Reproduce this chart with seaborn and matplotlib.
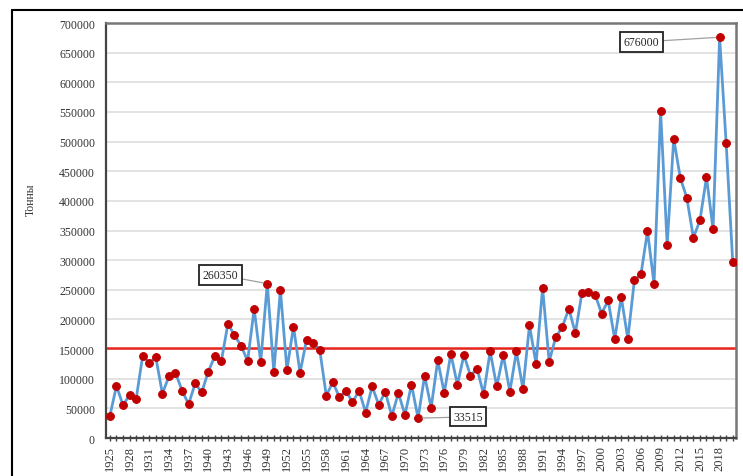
import numpy as np
import pandas as pd
import matplotlib
matplotlib.use("Agg")
import matplotlib.pyplot as plt
import seaborn as sns

years = list(range(1925, 2021))
tonnes = [
    37700, 88000, 55000, 73000, 66000, 139000, 127000, 136000, 75000, 104000,   # 1925-1934
    110000, 80000, 57000, 92000, 77000, 112000, 138000, 130000, 193000, 173000,  # 1935-1944
    156000, 130000, 218000, 128000, 260350, 111000, 250000, 115000, 188000, 110000,  # 1945-1954
    166000, 160000, 149000, 71500, 94000, 69000, 80000, 60000, 80000, 43000,     # 1955-1964
    87000, 56000, 78000, 37000, 76000, 39000, 90000, 33515, 105000, 51000,       # 1965-1974
    131000, 76000, 142000, 90000, 140000, 105000, 117000, 74000, 146000, 87000,  # 1975-1984
    140000, 78000, 146000, 83000, 190000, 125000, 253000, 129000, 170000, 187000,  # 1985-1994
    218000, 177000, 245000, 247000, 242000, 210000, 232000, 167000, 238000, 167000,  # 1995-2004
    266000, 276000, 349000, 260000, 551000, 326000, 505000, 439000, 405000, 338000,  # 2005-2014
    367000, 440000, 352000, 676000, 497000, 297000,                              # 2015-2020
]
mean_level = 151500
notes = [("676000", 2018, 676000), ("260350", 1949, 260350), ("33515", 1972, 33515)]
note_pos = [(2006.1, 668000), (1941.9, 275000), (1979.6, 35500)]

df = pd.DataFrame({"year": years, "t": tonnes})

sns.set_style("white")
plt.rcParams["font.family"] = ["Liberation Serif", "DejaVu Serif"]

fig = plt.figure(figsize=(7.43, 4.77), dpi=100)
ax = fig.add_axes([106 / 743, 1 - 439 / 477, 630 / 743, 415 / 477])

for v in range(50000, 700001, 50000):
    ax.axhline(v, color="#dedede", lw=1.2, zorder=0)

ax.axhline(mean_level, color="#e8261f", lw=1.8, zorder=1)

sns.lineplot(data=df, x="year", y="t", ax=ax, color="#5b9bd5", lw=2.0,
             marker="o", markersize=5.6, markerfacecolor="#c00000",
             markeredgecolor="#c00000", zorder=3)

for (txt, x, y), (tx, ty) in zip(notes, note_pos):
    ax.annotate(txt, xy=(x, y), xytext=(tx, ty), fontsize=8.5, ha="center", va="center",
                bbox=dict(boxstyle="square,pad=0.3", fc="white", ec="#222222", lw=1.3),
                arrowprops=dict(arrowstyle="-", color="#a0a0a0", lw=0.9,
                                shrinkA=0, shrinkB=3), zorder=5)

ax.set_xlim(1924.4, 2020.5)
ax.set_ylim(0, 700000)
ax.set_yticks(range(0, 700001, 50000))
ax.set_yticklabels([str(v) for v in range(0, 700001, 50000)], fontsize=8.5, color="#333333")
ax.set_xticks(range(1925, 2020, 3))
ax.set_xticklabels([str(y) for y in range(1925, 2020, 3)], rotation=90, fontsize=9, color="#333333")
ax.set_xticks(range(1925, 2021), minor=True)
ax.tick_params(axis="y", length=4, width=1, direction="inout", color="#444444", pad=6)
ax.tick_params(axis="x", which="both", length=4, width=1, direction="inout", color="#444444",
               bottom=True, pad=3)
ax.set_xlabel("")
ax.set_ylabel("Тонны", fontsize=8.5, color="#333333")
ax.yaxis.set_label_coords(-0.11, 0.576)

for side in ["left", "bottom"]:
    ax.spines[side].set_color("#444444")
    ax.spines[side].set_linewidth(1.6)
for side in ["top", "right"]:
    ax.spines[side].set_color("#777777")
    ax.spines[side].set_linewidth(1.8)

# outer frame of the source page
fig.add_artist(plt.Line2D([12 / 743, 12 / 743], [0, 1 - 11 / 477], color="black", lw=1.5))
fig.add_artist(plt.Line2D([12 / 743, 1], [1 - 11 / 477, 1 - 11 / 477], color="black", lw=1.5))

fig.savefig("out.png", dpi=100)
